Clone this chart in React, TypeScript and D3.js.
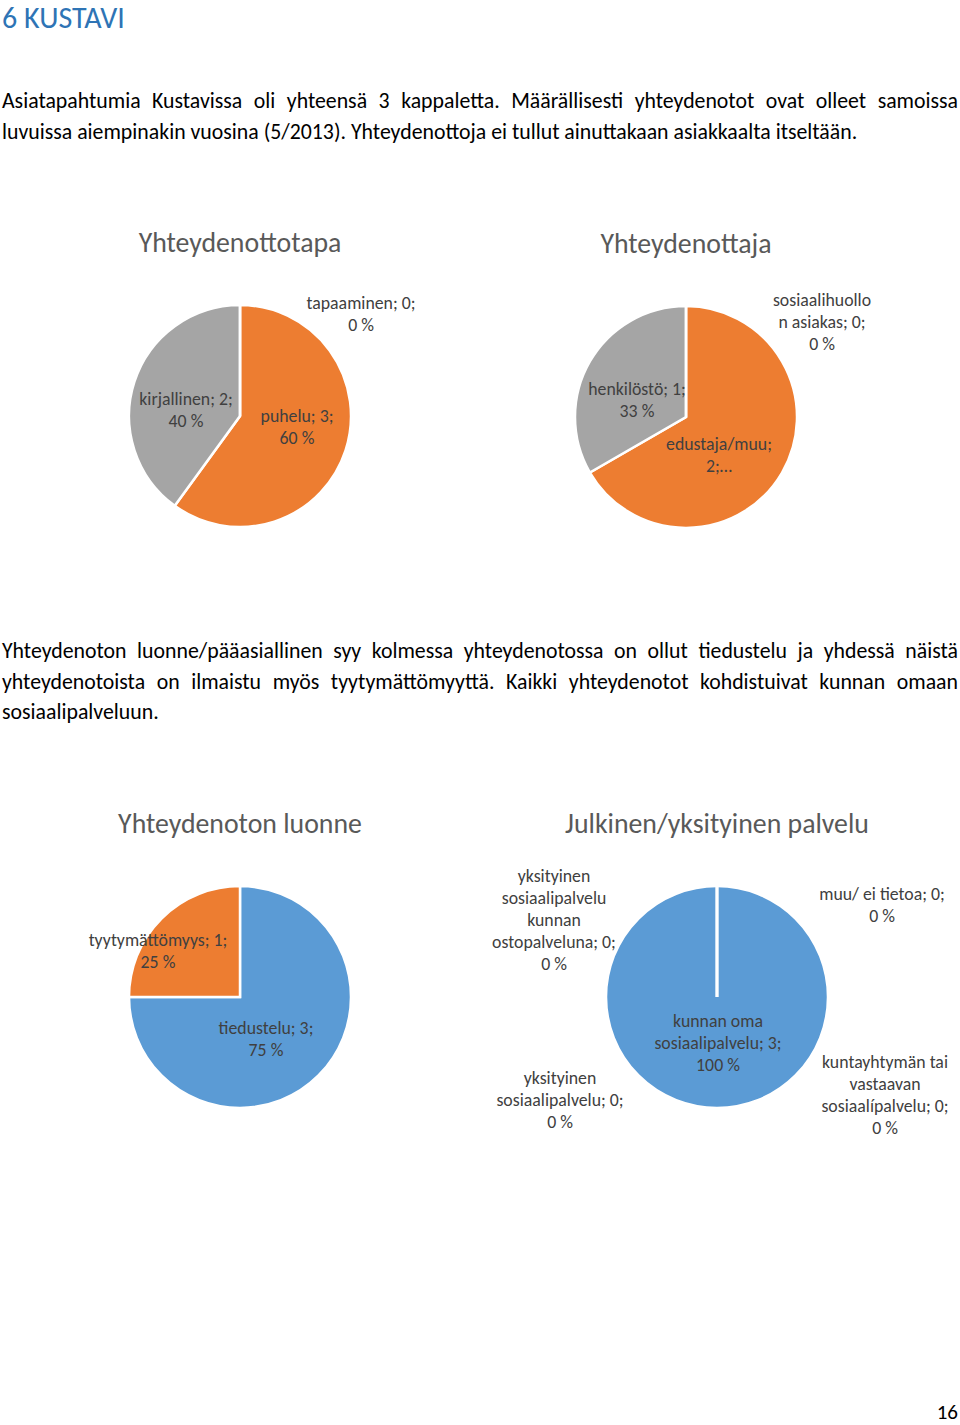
import React, { useEffect, useRef } from 'react';
import * as d3 from 'd3';

// page text
const heading = '6 KUSTAVI';
const para1 = [
  'Asiatapahtumia Kustavissa oli yhteensä 3 kappaletta. Määrällisesti yhteydenotot ovat olleet samoissa',
  'luvuissa aiempinakin vuosina (5/2013). Yhteydenottoja ei tullut ainuttakaan asiakkaalta itseltään.',
];
const para2 = [
  'Yhteydenoton luonne/pääasiallinen syy kolmessa yhteydenotossa on ollut tiedustelu ja yhdessä näistä',
  'yhteydenotoista on ilmaistu myös tyytymättömyyttä. Kaikki yhteydenotot kohdistuivat kunnan omaan',
  'sosiaalipalveluun.',
];

// chart data
const tapaCats = ['puhelu', 'kirjallinen', 'tapaaminen'];
const tapaVals = [3, 2, 0];
const ottajaCats = ['edustaja/muu', 'henkilöstö', 'sosiaalihuollon asiakas'];
const ottajaVals = [2, 1, 0];
const luonneCats = ['tiedustelu', 'tyytymättömyys'];
const luonneVals = [3, 1];
const palveluCats = [
  'kunnan oma sosiaalipalvelu',
  'kuntayhtymän tai vastaavan sosiaalípalvelu',
  'yksityinen sosiaalipalvelu',
  'yksityinen sosiaalipalvelu kunnan ostopalveluna',
  'muu/ ei tietoa',
];
const palveluVals = [3, 0, 0, 0, 0];

const ORANGE = '#ED7D31';
const GRAY = '#A5A5A5';
const BLUE = '#5B9BD5';

const FONT = 'Carlito, Calibri, Lato, sans-serif';

type Label = { lines: string[]; x: number; y: number };

const charts = [
  {
    title: 'Yhteydenottotapa', tx: 240, ty: 252, cx: 240, cy: 416,
    cats: tapaCats, vals: tapaVals, colors: [ORANGE, GRAY, BLUE],
    labels: [
      { lines: ['puhelu; 3;', '60 %'], x: 297, y: 422 },
      { lines: ['kirjallinen; 2;', '40 %'], x: 186, y: 405 },
      { lines: ['tapaaminen; 0;', '0 %'], x: 361, y: 309 },
    ] as Label[],
  },
  {
    title: 'Yhteydenottaja', tx: 686, ty: 253, cx: 686, cy: 417,
    cats: ottajaCats, vals: ottajaVals, colors: [ORANGE, GRAY, BLUE],
    labels: [
      { lines: ['edustaja/muu;', '2;…'], x: 719, y: 450 },
      { lines: ['henkilöstö; 1;', '33 %'], x: 637, y: 395 },
      { lines: ['sosiaalihuollo', 'n asiakas; 0;', '0 %'], x: 822, y: 306 },
    ] as Label[],
  },
  {
    title: 'Yhteydenoton luonne', tx: 240, ty: 833, cx: 240, cy: 997,
    cats: luonneCats, vals: luonneVals, colors: [BLUE, ORANGE],
    labels: [
      { lines: ['tiedustelu; 3;', '75 %'], x: 266, y: 1034 },
      { lines: ['tyytymättömyys; 1;', '25 %'], x: 158, y: 946 },
    ] as Label[],
  },
  {
    title: 'Julkinen/yksityinen palvelu', tx: 717, ty: 833, cx: 717, cy: 997,
    cats: palveluCats, vals: palveluVals, colors: [BLUE, BLUE, BLUE, BLUE, BLUE],
    labels: [
      { lines: ['kunnan oma', 'sosiaalipalvelu; 3;', '100 %'], x: 718, y: 1027 },
      { lines: ['kuntayhtymän tai', 'vastaavan', 'sosiaalípalvelu; 0;', '0 %'], x: 885, y: 1068 },
      { lines: ['yksityinen', 'sosiaalipalvelu; 0;', '0 %'], x: 560, y: 1084 },
      { lines: ['yksityinen', 'sosiaalipalvelu', 'kunnan', 'ostopalveluna; 0;', '0 %'], x: 554, y: 882 },
      { lines: ['muu/ ei tietoa; 0;', '0 %'], x: 882, y: 900 },
    ] as Label[],
  },
];

const RADIUS = 111;

function Paragraph({ lines, y0, lh }: { lines: string[]; y0: number; lh: number }) {
  const ref = useRef<SVGGElement>(null);
  useEffect(() => {
    const g = d3.select(ref.current);
    g.selectAll('*').remove();
    const left = 2, right = 958;
    lines.forEach((line, i) => {
      const y = y0 + i * lh;
      const last = i === lines.length - 1;
      if (last) {
        g.append('text').attr('x', left).attr('y', y).text(line);
        return;
      }
      // justify: spread the words over the full width
      const words = line.split(' ');
      const nodes = words.map(w => g.append('text').attr('y', y).text(w));
      const widths = nodes.map(n => (n.node() as SVGTextElement).getComputedTextLength());
      const gap = (right - left - d3.sum(widths)) / (words.length - 1);
      let x = left;
      nodes.forEach((n, j) => { n.attr('x', x); x += widths[j] + gap; });
    });
  }, [lines, y0, lh]);
  return <g ref={ref} fontFamily={FONT} fontSize={21.8} fill="#000" />;
}

function Pie({ c }: { c: typeof charts[number] }) {
  const data = c.cats.map((k, i) => ({ k, v: c.vals[i], color: c.colors[i] }));
  const arcs = d3.pie<typeof data[number]>().sort(null).value(d => d.v)(data);
  const arc = d3.arc<d3.PieArcDatum<typeof data[number]>>().innerRadius(0).outerRadius(RADIUS);
  return (
    <g>
      <text x={c.tx} y={c.ty} textAnchor="middle" fontSize={27.8} fill="#595959" fontFamily={FONT}>{c.title}</text>
      <g transform={`translate(${c.cx},${c.cy})`}>
        {arcs.map((a, i) => (
          <path key={i} d={arc(a) || ''} fill={a.data.color} stroke="#fff" strokeWidth={2.5} strokeLinejoin="miter" />
        ))}
      </g>
      {c.labels.map((l, i) => (
        <text key={i} textAnchor="middle" fontSize={17.8} fill="#404040" fontFamily={FONT}>
          {l.lines.map((s, j) => (
            <tspan key={j} x={l.x} y={l.y + j * 22}>{s}</tspan>
          ))}
        </text>
      ))}
    </g>
  );
}

export default function App() {
  return (
    <svg width={960} height={1425} style={{ position: 'absolute', left: 0, top: 0, background: '#fff' }}>
      <rect width={960} height={1425} fill="#fff" />
      <text x={2} y={28} fontSize={30} fill="#2E74B5" fontFamily={FONT} fontWeight={300}>{heading}</text>
      <Paragraph lines={para1} y0={108} lh={30.5} />
      {charts.map((c, i) => <Pie key={i} c={c} />)}
      <Paragraph lines={para2} y0={658} lh={30.5} />
      <text x={958} y={1419} textAnchor="end" fontSize={21} fill="#000" fontFamily={FONT}>16</text>
    </svg>
  );
}
